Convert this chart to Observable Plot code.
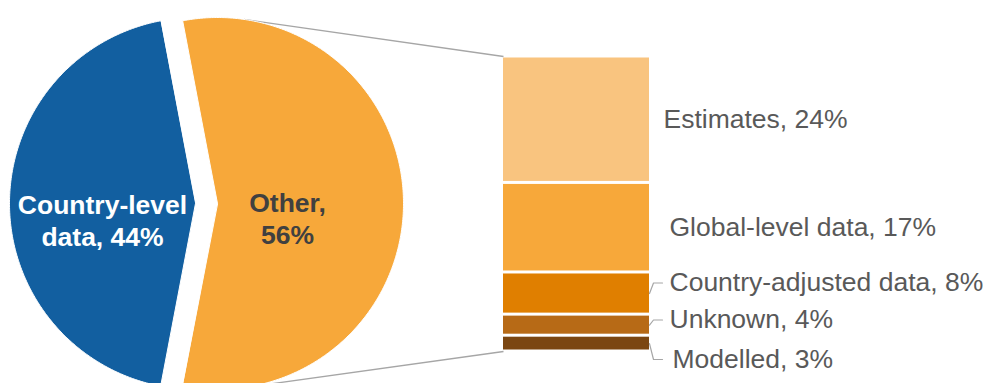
<!DOCTYPE html>
<html><head><meta charset="utf-8">
<script src="https://cdn.jsdelivr.net/npm/d3@7"></script>
<script src="https://cdn.jsdelivr.net/npm/@observablehq/plot@0.6"></script>
<style>html,body{margin:0;padding:0;background:#fff} svg{display:block}</style>
</head><body><div id="chart"></div>
<script>
// ---- data ----
const pieCategories = ["Other", "Country-level data"];
const pieValues = [56, 44];
const barCategories = ["Estimates", "Global-level data", "Country-adjusted data", "Unknown", "Modelled"];
const barValues = [24, 17, 8, 4, 3];

// ---- styles ----
const pieColors = ["#F7A83A", "#125FA0"];
const pieTextColors = ["#404040", "#FFFFFF"];
const barColors = ["#F9C47F", "#F7A83A", "#E07F00", "#B76A16", "#7B4611"];
const FONT = "'Liberation Sans', Arial, Helvetica, sans-serif";
const FS = 26.5;

// ---- layout (px) ----
const W = 991, H = 383;
const pieCenter = {x: 206, y: 203}, pieR = 186, explode = 11;
const bar = {x1: 503, x2: 649, top: 56, bottom: 351};
const pieLabelPos = [{x: 287, base: 243}, {x: 102, base: 245}];
const barLabelPos = [{x: 663, mid: null}, {x: 669, mid: null}, {x: 669, mid: 282.5}, {x: 669, mid: 319.5}, {x: 672, mid: 359}];
const leaderX = [653, 662];

const total = d3.sum(barValues);
const yS = d3.scaleLinear([0, total], [bar.top, bar.bottom]);
const Y = py => yS.invert(py);

// ---- pie geometry from values ----
const share0 = pieValues[0] / d3.sum(pieValues);
const pie = d3.pie().sort(null).startAngle(Math.PI / 2 - Math.PI * share0).endAngle(Math.PI / 2 - Math.PI * share0 + 2 * Math.PI);
const arcs = pie(pieValues).map((a, i) => {
  const m = (a.startAngle + a.endAngle) / 2;
  const cx = pieCenter.x + explode * Math.sin(m);
  const cy = pieCenter.y - explode * Math.cos(m);
  const n = Math.ceil((a.endAngle - a.startAngle) / (Math.PI / 360));
  const pts = [{x: cx, y: Y(cy)}];
  for (let k = 0; k <= n; k++) {
    const t = a.startAngle + (a.endAngle - a.startAngle) * k / n;
    pts.push({x: cx + pieR * Math.sin(t), y: Y(cy - pieR * Math.cos(t))});
  }
  return {i, cx, cy, m, pts};
});

// ---- bar data ----
const barData = barCategories.map((c, i) => ({category: c, value: barValues[i], color: barColors[i]}));
const cum = d3.cumsum(barValues);

// ---- connector lines (tangent from bar corners to "Other" slice) ----
const other = arcs[0];
function tangent(px, py, sign) {
  const dx = px - other.cx, dy = py - other.cy;
  const d = Math.hypot(dx, dy);
  const phi = Math.atan2(dy, dx);
  const th = phi + sign * Math.acos(pieR / d);
  return {x: other.cx + pieR * Math.cos(th), y: other.cy + pieR * Math.sin(th)};
}
const tTop = tangent(bar.x1, bar.top, -1);
const tBot = tangent(bar.x1, bar.bottom, +1);
const connectors = [
  {x1: tTop.x, y1: Y(tTop.y), x2: bar.x1, y2: 0},
  {x1: tBot.x, y1: Y(tBot.y), x2: bar.x1, y2: total}
];

// ---- bar labels ----
const barLabels = barData.map((d, i) => {
  const segMid = cum[i] - barValues[i] / 2;
  const p = barLabelPos[i];
  return {text: `${d.category}, ${d.value}%`, x: p.x, y: p.mid == null ? segMid : Y(p.mid), segMid, leader: p.mid != null};
});
const leaders = barLabels.filter(d => d.leader).map(d => [
  {x: bar.x2, y: d.segMid}, {x: leaderX[0], y: d.y}, {x: leaderX[1], y: d.y}
]);

// ---- pie labels ----
const pieLabels = pieCategories.map((c, i) => ({
  text: `${c}, ${pieValues[i]}%`.replace(" ", "\n"),
  x: pieLabelPos[i].x, y: Y(pieLabelPos[i].base), color: pieTextColors[i]
}));

const chart = Plot.plot({
  width: W, height: H, margin: 0,
  x: {domain: [0, W], range: [0, W], axis: null},
  y: {domain: yS.domain(), range: yS.range(), axis: null},
  color: {type: "identity"},
  style: {fontFamily: FONT, background: "#fff"},
  marks: [
    Plot.link(connectors, {x1: "x1", y1: "y1", x2: "x2", y2: "y2", stroke: "#A6A6A6", strokeWidth: 1.3}),
    ...arcs.map(a => Plot.line(a.pts, {x: "x", y: "y", curve: "linear-closed", fill: pieColors[a.i], stroke: "#fff", strokeWidth: 1})),
    Plot.rectY(barData, {x1: bar.x1, x2: bar.x2, y: "value", fill: "color", insetTop: 1.5, insetBottom: 1.5}),
    ...leaders.map(l => Plot.line(l, {x: "x", y: "y", stroke: "#A6A6A6", strokeWidth: 1.2})),
    Plot.text(barLabels, {x: "x", y: "y", text: "text", textAnchor: "start", lineAnchor: "middle", fill: "#595959", fontSize: FS, fontFamily: FONT}),
    Plot.text(pieLabels, {x: "x", y: "y", text: "text", textAnchor: "middle", lineAnchor: "bottom", lineHeight: 1.2, fill: "color", fontSize: FS, fontWeight: "bold", fontFamily: FONT})
  ]
});
document.getElementById("chart").appendChild(chart);
</script>
</body></html>
